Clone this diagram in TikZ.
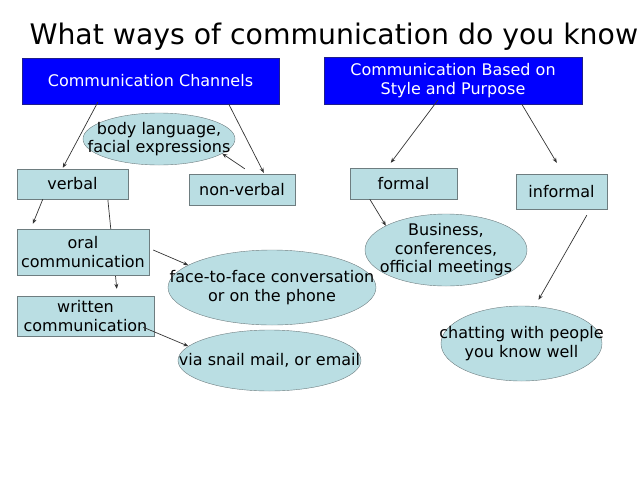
\documentclass[tikz,border=0pt]{standalone}
\usepackage{fontspec}
\setmainfont{DejaVu Sans}
\usetikzlibrary{shapes.geometric,arrows.meta,backgrounds}
\definecolor{pale}{RGB}{186,222,227}
\definecolor{rim}{RGB}{110,125,128}
\definecolor{navy}{RGB}{30,30,140}

\begin{document}
\begin{tikzpicture}[x=1pt,y=-1pt,
  head/.style={rectangle,draw=navy,fill=blue,text=white,align=center,inner sep=0pt,font=\fontsize{16}{18.5}\selectfont},
  box/.style={rectangle,draw=rim,fill=pale,align=center,inner sep=0pt,font=\fontsize{16}{18.5}\selectfont},
  blob/.style={ellipse,draw=rim,fill=pale,inner sep=0pt},
  txt/.style={align=center,font=\fontsize{16}{18.5}\selectfont},
  arr/.style={draw=black!80,line width=0.7pt,-{Stealth[length=5pt,width=4pt]}}]
\useasboundingbox (0,0) rectangle (640,480);

\node[anchor=base west,font=\fontsize{28.3}{32}\selectfont] (title) at (26,44) {What ways of communication do you know};

\node[head,minimum width=257pt,minimum height=46pt] (channels) at (150.5,81) {Communication Channels};
\node[head,minimum width=258pt,minimum height=47pt] (purpose) at (453,80.5) {Communication Based on\\Style and Purpose};

\node[blob,minimum width=152pt,minimum height=52pt,label={[txt]center:body language,\\facial expressions}] (body) at (159,139) {};
\node[box,minimum width=111pt,minimum height=30pt] (verbal) at (72.5,184) {verbal};
\node[box,minimum width=106pt,minimum height=31pt] (nonverbal) at (242,189.5) {non-verbal};
\node[box,minimum width=107pt,minimum height=31pt] (formal) at (403.5,183.5) {formal};
\node[box,minimum width=91pt,minimum height=35pt] (informal) at (561.5,191.5) {informal};

\node[box,minimum width=132pt,minimum height=46pt] (oral) at (83,252) {oral\\communication};
\node[box,minimum width=137pt,minimum height=40pt] (written) at (85.5,316) {written\\communication};
\node[blob,minimum width=208pt,minimum height=75pt,label={[txt]center:face-to-face conversation\\or on the phone}] (talk) at (272,287.5) {};
\node[blob,minimum width=183pt,minimum height=61pt,label={[txt]center:via snail mail, or email}] (mail) at (269.5,360.5) {};
\node[blob,minimum width=162pt,minimum height=72pt,label={[txt]center:Business,\\conferences,\\official meetings}] (business) at (446,250) {};
\node[blob,minimum width=161pt,minimum height=75pt,label={[txt]center:chatting with people\\you know well}] (chatting) at (521.5,343.5) {};

% connectors
\draw[arr] ([xshift=76pt,yshift=2pt]channels.south west) -- ([xshift=46pt,yshift=1pt]verbal.north west);
\draw[arr] ([xshift=207pt]channels.south west) -- ([xshift=75pt,yshift=1pt]nonverbal.north west);
\draw[arr] ([xshift=56pt,yshift=5pt]nonverbal.north west) -- (body.-13);
\draw[arr] ([xshift=114pt,yshift=4pt]purpose.south west) -- ([xshift=41pt,yshift=5pt]formal.north west);
\draw[arr] ([xshift=198pt]purpose.south west) -- ([xshift=41pt,yshift=11pt]informal.north west);
\draw[arr] ([xshift=26pt]verbal.south west) -- ([xshift=16pt,yshift=5pt]oral.north west);
\begin{scope}[on background layer]
\draw[arr] ([xshift=91pt]verbal.south west) -- ([xshift=100pt,yshift=7pt]written.north west);
\end{scope}
\draw[arr] ([xshift=4pt,yshift=2pt]oral.east) -- (talk.165);
\draw[arr] ([xshift=-11pt,yshift=9pt]written.south east) -- (mail.170);
\draw[arr] ([xshift=20pt]formal.south west) -- (business.158);
\draw[arr] ([xshift=71pt,yshift=-6pt]informal.south west) -- ([xshift=17pt,yshift=6pt]chatting.north);
\end{tikzpicture}
\end{document}
